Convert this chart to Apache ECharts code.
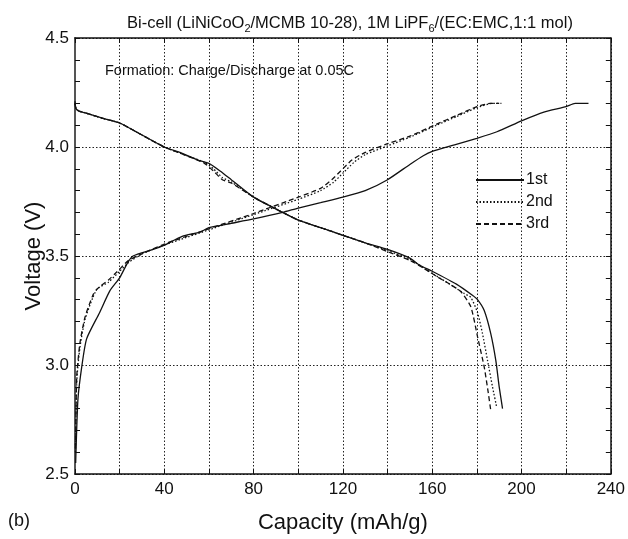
<!DOCTYPE html>
<html><head><meta charset="utf-8">
<script src="https://cdn.jsdelivr.net/npm/echarts@6/dist/echarts.min.js"></script>
<style>html,body{margin:0;padding:0;background:#fff}#c{width:628px;height:539px}</style>
</head><body><div id="c"></div>
<script>
// ---- data (capacity mAh/g, voltage V) ----
const legendNames = ['1st', '2nd', '3rd'];

const charge1Cap = [0.3, 1.3, 3, 5.2, 11, 15.6, 20, 23.6, 26, 35, 40, 48, 56, 60, 70, 80, 93, 100, 110, 120, 130, 140, 150, 156, 160, 170, 180, 189, 200, 210, 220, 224, 230];
const charge1V   = [2.55, 2.84, 2.99, 3.12, 3.24, 3.34, 3.40, 3.47, 3.50, 3.53, 3.55, 3.59, 3.61, 3.63, 3.65, 3.67, 3.70, 3.72, 3.745, 3.77, 3.80, 3.85, 3.92, 3.96, 3.98, 4.01, 4.04, 4.07, 4.12, 4.16, 4.185, 4.20, 4.20];

const charge2Cap = [0.2, 0.8, 2.2, 4.5, 8, 10, 15, 20, 24, 30, 40, 47, 60, 80, 100, 110, 116, 120, 125, 130, 140, 150, 162, 171, 180, 187, 191];
const charge2V   = [2.60, 2.93, 3.08, 3.21, 3.31, 3.35, 3.38, 3.43, 3.47, 3.51, 3.55, 3.575, 3.62, 3.69, 3.76, 3.80, 3.84, 3.88, 3.93, 3.965, 4.005, 4.045, 4.10, 4.14, 4.18, 4.20, 4.20];

const charge3Cap = [0.2, 0.8, 2.2, 4.5, 8, 10, 15, 18, 20, 24, 30, 40, 47, 60, 80, 100, 110, 115, 119, 124, 130, 140, 150, 162, 171, 180, 186, 190];
const charge3V   = [2.62, 2.95, 3.10, 3.22, 3.32, 3.35, 3.39, 3.42, 3.44, 3.48, 3.51, 3.555, 3.58, 3.625, 3.695, 3.77, 3.81, 3.85, 3.89, 3.94, 3.975, 4.015, 4.05, 4.105, 4.145, 4.185, 4.20, 4.20];

const dis1Cap = [0, 0.3, 1.5, 5, 13, 20, 30, 40, 47, 55, 60, 65, 70, 80, 93, 100, 110, 120, 130, 140, 150, 154, 160, 171, 178, 180.3, 183.3, 186.2, 188.5, 190, 191.5];
const dis1V   = [4.21, 4.18, 4.165, 4.155, 4.13, 4.11, 4.055, 4.00, 3.975, 3.94, 3.925, 3.89, 3.85, 3.77, 3.70, 3.665, 3.63, 3.595, 3.56, 3.53, 3.49, 3.46, 3.43, 3.37, 3.32, 3.30, 3.25, 3.145, 3.02, 2.90, 2.80];

const dis2Cap = [0, 0.5, 2, 5, 13, 20, 30, 40, 50, 58, 62, 66, 70, 80, 93, 100, 110, 120, 130, 140, 150, 160, 168, 174, 177.3, 180.3, 182.5, 184.8, 187, 188.8];
const dis2V   = [4.20, 4.175, 4.165, 4.155, 4.13, 4.11, 4.055, 4.00, 3.96, 3.93, 3.90, 3.86, 3.84, 3.77, 3.70, 3.665, 3.63, 3.595, 3.56, 3.525, 3.485, 3.42, 3.37, 3.33, 3.31, 3.24, 3.145, 3.02, 2.90, 2.81];

const dis3Cap = [0, 0.5, 2, 5, 13, 20, 30, 40, 50, 58, 62, 66, 70, 80, 93, 100, 110, 120, 130, 140, 150, 156, 162.2, 168, 172.9, 177.3, 180.3, 183.3, 185, 186.2];
const dis3V   = [4.20, 4.175, 4.165, 4.155, 4.13, 4.11, 4.055, 4.00, 3.96, 3.925, 3.89, 3.85, 3.835, 3.77, 3.70, 3.665, 3.63, 3.595, 3.56, 3.52, 3.48, 3.445, 3.405, 3.37, 3.336, 3.267, 3.13, 2.99, 2.88, 2.794];

const xLabelTicks = [0, 40, 80, 120, 160, 200, 240];
const yLabelTicks = [2.5, 3.0, 3.5, 4.0, 4.5];

// ---- build ----
const zip = (a, b) => a.map((v, i) => [v, b[i]]);
const FONT = 'Liberation Sans';
const INK = '#111';
const styles = [
  { type: 'solid', width: 1.3 },
  { type: [1.5, 2], width: 1.3 },
  { type: [5, 3], width: 1.3 }
];
const sets = [
  [charge1Cap, charge1V, 0], [dis1Cap, dis1V, 0],
  [charge2Cap, charge2V, 1], [dis2Cap, dis2V, 1],
  [charge3Cap, charge3V, 2], [dis3Cap, dis3V, 2]
];
const series = sets.map(([c, v, k]) => ({
  name: legendNames[k],
  type: 'line',
  data: zip(c, v),
  symbol: 'none',
  smooth: 0.2,
  lineStyle: { color: INK, width: styles[k].width, type: styles[k].type },
  itemStyle: { color: INK },
  z: 3 + k
}));

const gridDot = { show: true, lineStyle: { color: '#222', width: 1, type: [1.5, 2] } };

const chart = echarts.init(document.getElementById('c'), null, { renderer: 'canvas' });
chart.setOption({
  animation: false,
  backgroundColor: '#fff',
  title: {
    text: '{a|Bi-cell (LiNiCoO}{s|2}{a|/MCMB 10-28), 1M LiPF}{s|6}{a|/(EC:EMC,1:1 mol)}',
    left: 345, top: 8, textAlign: 'center',
    textStyle: {
      rich: {
        a: { fontFamily: FONT, fontSize: 16.5, color: INK, fontWeight: 'normal' },
        s: { fontFamily: FONT, fontSize: 11, color: INK, fontWeight: 'normal', padding: [10, 0, 0, 0] }
      }
    }
  },
  legend: {
    data: legendNames,
    orient: 'vertical',
    left: 470, top: 167,
    itemWidth: 48, itemHeight: 10, itemGap: 6,
    itemStyle: { opacity: 0 },
    textStyle: { fontFamily: FONT, fontSize: 16, color: INK, padding: [0, 0, 0, -3] },
    selectedMode: false
  },
  grid: { left: 75, right: 14, top: 38, bottom: 65, containLabel: false },
  xAxis: [{
    type: 'value', min: 0, max: 240, interval: 20,
    name: 'Capacity (mAh/g)', nameLocation: 'middle', nameGap: 38, nameMoveOverlap: false,
    nameTextStyle: { fontFamily: FONT, fontSize: 22, color: INK },
    axisLine: { show: true, onZero: false, lineStyle: { color: INK, width: 1.5 } },
    axisTick: { show: true, inside: true, length: 5, lineStyle: { color: INK } },
    axisLabel: {
      fontFamily: FONT, fontSize: 17, color: INK, margin: 7,
      formatter: v => (xLabelTicks.includes(v) ? String(v) : '')
    },
    splitLine: gridDot
  }, {
    type: 'value', min: 0, max: 240, interval: 20, position: 'top',
    axisLine: { show: true, onZero: false, lineStyle: { color: INK, width: 1.5 } },
    axisTick: { show: true, inside: true, length: 5, lineStyle: { color: INK } },
    axisLabel: { show: false }, splitLine: { show: false }
  }],
  yAxis: [{
    type: 'value', min: 2.5, max: 4.5, interval: 0.5,
    name: 'Voltage (V)', nameLocation: 'middle', nameGap: 30, nameRotate: 90, nameMoveOverlap: false,
    nameTextStyle: { fontFamily: FONT, fontSize: 22, color: INK },
    axisLine: { show: true, onZero: false, lineStyle: { color: '#555', width: 2 } },
    axisTick: { show: true, inside: true, length: 5, lineStyle: { color: INK } },
    minorTick: { show: true, splitNumber: 5, length: 5, lineStyle: { color: INK } },
    axisLabel: {
      fontFamily: FONT, fontSize: 17, color: INK, margin: 6,
      formatter: v => { const t = yLabelTicks.find(x => Math.abs(x - v) < 1e-6); return t === undefined ? '' : t.toFixed(1); }
    },
    splitLine: gridDot
  }, {
    type: 'value', min: 2.5, max: 4.5, interval: 0.5, position: 'right',
    axisLine: { show: true, onZero: false, lineStyle: { color: INK, width: 1.5 } },
    axisTick: { show: true, inside: true, length: 5, lineStyle: { color: INK } },
    minorTick: { show: true, splitNumber: 5, length: 5, lineStyle: { color: INK } },
    axisLabel: { show: false }, splitLine: { show: false }
  }],
  graphic: [
    { type: 'text', left: 105, top: 63, style: { text: 'Formation: Charge/Discharge at 0.05C', font: '14.5px "Liberation Sans"', fill: INK } },
    { type: 'text', left: 8, top: 512, style: { text: '(b)', font: '18px "Liberation Sans"', fill: INK } }
  ],
  series: series
});
</script>
</body></html>
